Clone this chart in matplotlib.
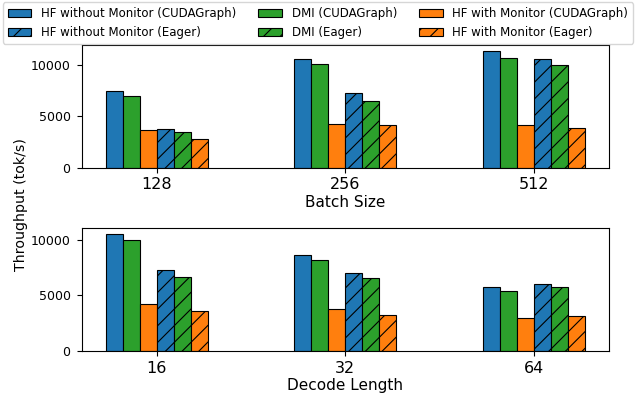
import matplotlib
matplotlib.use("Agg")
import matplotlib.pyplot as plt
import numpy as np

series_labels = ["HF without Monitor (CUDAGraph)", "DMI (CUDAGraph)", "HF with Monitor (CUDAGraph)",
                 "HF without Monitor (Eager)", "DMI (Eager)", "HF with Monitor (Eager)"]
series_colors = ["#1f77b4", "#2ca02c", "#ff7f0e", "#1f77b4", "#2ca02c", "#ff7f0e"]
series_hatch = [None, None, None, "//", "//", "//"]

batch_labels = ["128", "256", "512"]
batch_values = [
    [7490, 10570, 11420],   # HF w/o CG
    [6950, 10060, 10740],   # DMI CG
    [3640, 4250, 4150],     # HF w CG
    [3790, 7240, 10550],    # HF w/o Eager
    [3440, 6460, 10020],    # DMI Eager
    [2820, 4130, 3890],     # HF w Eager
]

decode_labels = ["16", "32", "64"]
decode_values = [
    [10550, 8600, 5710],
    [10010, 8150, 5400],
    [4180, 3740, 2930],
    [7260, 7020, 5980],
    [6630, 6570, 5710],
    [3580, 3230, 3140],
]

plt.rcParams["hatch.linewidth"] = 0.8

fig = plt.figure(figsize=(6.36, 3.93), dpi=100)
ax1 = fig.add_axes([0.1285, 0.5733, 0.829, 0.313])
ax2 = fig.add_axes([0.1285, 0.1069, 0.829, 0.3137])

width = 0.09

def draw(ax, labels, values, xlabel):
    x = np.arange(len(labels))
    handles = []
    for i, vals in enumerate(values):
        off = (i - 2.5) * width
        h = ax.bar(x + off, vals, width, color=series_colors[i], edgecolor="black",
                   linewidth=0.8, hatch=series_hatch[i], label=series_labels[i])
        handles.append(h)
    ax.set_xticks(x)
    ax.set_xticklabels(labels, fontsize=11.5)
    ax.tick_params(axis="y", labelsize=9, pad=4.5)
    ax.set_xlabel(xlabel, fontsize=11, labelpad=2)
    return handles

h = draw(ax1, batch_labels, batch_values, "Batch Size")
draw(ax2, decode_labels, decode_values, "Decode Length")

order = [0, 3, 1, 4, 2, 5]
fig.legend([h[i] for i in order], [series_labels[i] for i in order], ncol=3,
           loc="upper center", bbox_to_anchor=(0.5, 1.0), fontsize=8.5,
           columnspacing=1.9, handlelength=2.0, borderaxespad=0.2)

fig.text(0.033, 0.48, "Throughput (tok/s)", rotation=90, va="center", ha="center", fontsize=10.2)

fig.savefig("out.png", dpi=100)
